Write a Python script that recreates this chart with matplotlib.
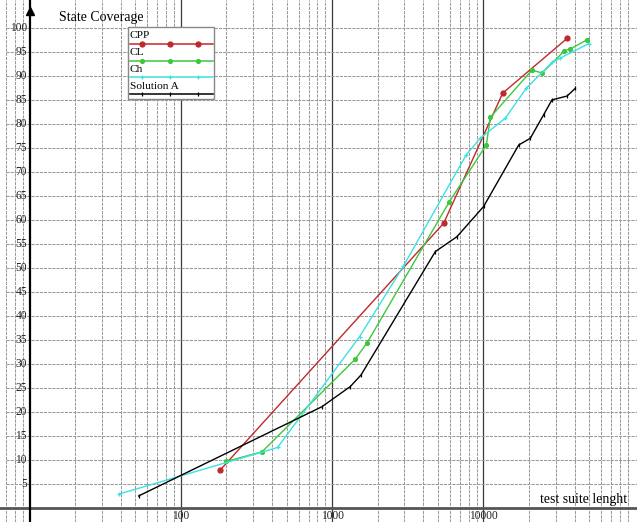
import matplotlib
matplotlib.use("Agg")
import matplotlib.pyplot as plt
from matplotlib.patches import Rectangle

# ===== Data =====
CPP_X = [182, 5460, 13400, 35700]
CPP_Y = [7.9, 59.3, 86.4, 97.8]

CL_X = [200, 344, 1422, 1702, 5960, 10450, 11120, 20940, 24380, 34270, 37500, 48400]
CL_Y = [9.7, 11.7, 31.0, 34.4, 63.8, 75.6, 81.4, 91.2, 90.6, 95.2, 95.6, 97.5]

CH_X = [39, 436, 1520, 2950, 7680, 9530, 13960, 19180, 28380, 32200, 49500]
CH_Y = [2.9, 12.6, 35.7, 50.3, 73.5, 77.0, 81.2, 87.4, 92.8, 93.7, 96.7]

SOLA_X = [52.6, 857, 1319, 1552, 4808, 6680, 10030, 17100, 20410, 24990, 28380, 35720, 40460]
SOLA_Y = [2.5, 21.1, 25.3, 27.7, 53.4, 56.5, 62.8, 75.6, 77.0, 81.9, 85.0, 85.8, 87.4]

X_TICKS = [100, 1000, 10000]
Y_TICKS = [5, 10, 15, 20, 25, 30, 35, 40, 45, 50, 55, 60, 65, 70, 75, 80, 85, 90, 95, 100]

SERIES = [
    ("CPP", CPP_X, CPP_Y, "#c0282d", "o", 3.6),
    ("CL", CL_X, CL_Y, "#3cc83c", "o", 2.8),
    ("Ch", CH_X, CH_Y, "#3ee0e0", "+", 3.5),
    ("Solution A", SOLA_X, SOLA_Y, "#000000", "|", 2.8),
]

# ===== Layout =====
W, H = 637, 522
XLIM = (6.38, 103500)
YLIM = (-2.92, 105.8)
GRID_COLOR = "#9a9a9a"
FONT = "Liberation Serif"


def px(x, y):
    # pixel position -> axes fraction
    return x / W, 1 - y / H


fig = plt.figure(figsize=(W / 100, H / 100), dpi=100)
ax = fig.add_axes([0, 0, 1, 1])
ax.set_xscale("log")
ax.set_xlim(*XLIM)
ax.set_ylim(*YLIM)
ax.axis("off")

# vertical grid: minor decades fine dashed, majors solid
for k in range(0, 5):
    for m in range(2, 10):
        v = m * 10 ** k
        if XLIM[0] < v < XLIM[1]:
            ax.axvline(v, color=GRID_COLOR, lw=0.75, ls=(0, (3, 1)), zorder=1)
for v in X_TICKS:
    ax.axvline(v, color="#3a3a3a", lw=0.9, zorder=1)

# horizontal grid
ax.hlines(Y_TICKS, 7.0, XLIM[1], color=GRID_COLOR, lw=0.75, ls=(0, (3, 1)), zorder=1)

# axes lines
ax.axhline(0, color="#555555", lw=2.0, zorder=2)
ax.axvline(10, color="black", lw=1.6, zorder=2)
ax.plot([10], [103.6], marker="^", ms=6, color="black", clip_on=False, zorder=3)

# tick labels
for v in Y_TICKS:
    ax.text(27 / W, v, str(v), transform=ax.get_yaxis_transform(), ha="right",
            va="center", fontsize=8.3, family=FONT, color="#222222")
for v in X_TICKS:
    ax.text(v, 1 - 516 / H, str(v), transform=ax.get_xaxis_transform(), ha="center",
            va="center", fontsize=8.3, family=FONT, color="#222222")

ax.text(*px(59, 17), "State Coverage", transform=ax.transAxes, ha="left", va="center",
        fontsize=10, family=FONT)
ax.text(*px(627, 500), "test suite lenght", transform=ax.transAxes, ha="right",
        va="center", fontsize=10, family=FONT)

# series
for name, xs, ys, color, marker, ms in SERIES:
    ax.plot(xs, ys, color=color, lw=1.0, marker=marker, ms=ms, mec=color, mfc=color,
            mew=0.9, zorder=4)

# legend, drawn by hand (label above a line with three markers)
box_x0, box_y0, box_x1, box_y1 = 127.5, 27.5, 213.5, 98.5
x0, y0 = px(box_x0, box_y1)
x1, y1 = px(box_x1, box_y0)
ax.add_patch(Rectangle((x0, y0), x1 - x0, y1 - y0, transform=ax.transAxes,
                       facecolor="white", edgecolor="#888888", lw=1.0, zorder=5))
row_lines = [43.5, 60.5, 77.3, 94.3]
for (name, xs, ys, color, marker, ms), ly in zip(SERIES, row_lines):
    ax.text(*px(130, ly - 8), name, transform=ax.transAxes, ha="left", va="center",
            fontsize=8.2, family=FONT, zorder=6)
    lx0, lyy = px(129.5, ly)
    lx1, _ = px(212.5, ly)
    ax.plot([lx0, lx1], [lyy, lyy], transform=ax.transAxes, color=color, lw=1.1, zorder=6)
    mk_x = [px(p, ly)[0] for p in (141.7, 170, 198.3)]
    ax.plot(mk_x, [lyy] * 3, transform=ax.transAxes, ls="none", marker=marker, ms=ms,
            mec=color, mfc=color, mew=0.9, zorder=6)

fig.savefig("out.png", dpi=100)
